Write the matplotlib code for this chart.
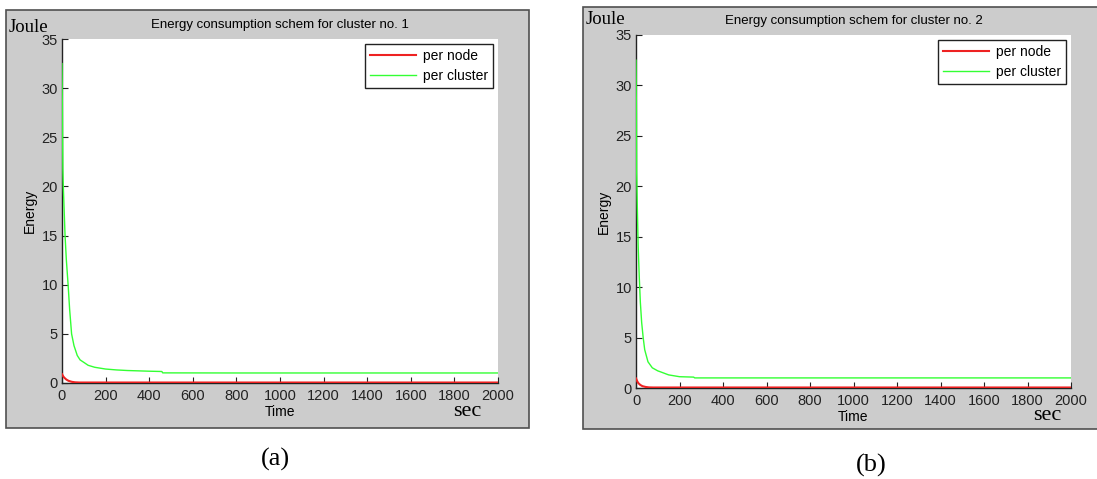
import matplotlib.pyplot as plt
from matplotlib.patches import Rectangle

plt.rcParams['font.family'] = ['Liberation Sans', 'DejaVu Sans']

# time samples (sec) and energy (Joule) for cluster 1
t_a = [0, 2, 4, 6, 10, 14, 20, 28, 35, 44, 55, 70, 83, 100, 120, 150,
       200, 250, 300, 400, 458, 462, 800, 1200, 1600, 2000]
cluster_a = [32.5, 27.2, 21.8, 20.0, 17.5, 15.0, 12.5, 10.0, 7.5, 5.0, 3.8,
             2.8, 2.35, 2.1, 1.8, 1.6, 1.42, 1.33, 1.27, 1.2, 1.17, 1.03,
             1.02, 1.02, 1.02, 1.02]
t_node_a = [0, 5, 10, 20, 30, 45, 60, 80, 500, 1000, 2000]
node_a = [0.9, 0.7, 0.55, 0.35, 0.22, 0.12, 0.07, 0.05, 0.05, 0.05, 0.05]

# cluster 2
t_b = [0, 2, 3, 6, 10, 15, 20, 26, 33, 40, 55, 75, 100, 113, 150, 200,
       265, 270, 800, 1200, 1600, 2000]
cluster_b = [32.5, 27.2, 21.5, 18.0, 14.0, 11.0, 8.5, 6.5, 5.0, 3.8, 2.6,
             2.0, 1.7, 1.6, 1.3, 1.12, 1.08, 1.0, 1.0, 1.0, 1.0, 1.0]
t_node_b = [0, 5, 10, 20, 30, 45, 60, 80, 500, 1000, 2000]
node_b = [0.95, 0.7, 0.5, 0.3, 0.18, 0.1, 0.06, 0.05, 0.05, 0.05, 0.05]

x_ticks = list(range(0, 2001, 200))
y_ticks = list(range(0, 36, 5))

W, H = 1097, 479
fig = plt.figure(figsize=(W / 100, H / 100), dpi=100)


def fx(px):
    return px / W


def fy(py):
    return 1 - py / H


def panel(box, ax_box, t, cl, tn, nd, num, label, label_xy, sec_xy, joule_y):
    x0, y0, x1, y1 = box
    bg = Rectangle((fx(x0), fy(y1)), fx(x1 - x0), (y1 - y0) / H,
                   transform=fig.transFigure, facecolor='#cccccc',
                   edgecolor='#505050', linewidth=1.2, zorder=-5)
    fig.patches.append(bg)
    a0, b0, a1, b1 = ax_box
    ax = fig.add_axes([fx(a0), fy(b1), fx(a1 - a0), (b1 - b0) / H], zorder=1)
    ax.plot(t, cl, color='#33ff33', lw=1.0, label='per cluster', zorder=3)
    ax.plot(tn, nd, color='#ee2222', lw=1.5, label='per node', zorder=3)
    ax.set_xlim(0, 2000)
    ax.set_ylim(0, 35)
    ax.set_xticks(x_ticks)
    ax.set_yticks(y_ticks)
    ax.tick_params(direction='in', length=4, labelsize=10.5, colors='#222222',
                   width=0.8)
    ax.tick_params(axis='x', pad=4)
    ax.tick_params(axis='y', pad=3)
    for s in ['top', 'right']:
        ax.spines[s].set_visible(False)
    for s in ['left', 'bottom']:
        ax.spines[s].set_color('#222222')
        ax.spines[s].set_linewidth(1.0)
    ax.set_xlabel('Time', fontsize=10, labelpad=2)
    ax.set_ylabel('Energy', fontsize=10, labelpad=3)
    ax.set_title(f'Energy consumption schem for cluster no. {num}', fontsize=9.5,
                 pad=8)
    handles, labels = ax.get_legend_handles_labels()
    leg = ax.legend(handles[::-1], labels[::-1], loc='upper right', fontsize=10,
                    fancybox=False, edgecolor='#222222', framealpha=1,
                    handlelength=3.3, borderpad=0.35, labelspacing=0.45,
                    borderaxespad=0, handletextpad=0.5,
                    bbox_to_anchor=(1 - 5 / (a1 - a0), 1 - 5 / (b1 - b0)))
    leg.get_frame().set_linewidth(1.0)
    fig.text(fx(box[0] + 3), fy(joule_y), 'Joule', family='Liberation Serif',
             fontsize=13.5, va='center', ha='left')
    fig.text(fx(sec_xy[0]), fy(sec_xy[1]), 'sec', family='Liberation Serif',
             fontsize=16, va='center', ha='center')
    fig.text(fx(label_xy[0]), fy(label_xy[1]), label, family='Liberation Serif',
             fontsize=19, va='center', ha='center')
    return ax


panel((6, 10, 529, 428), (62, 39, 498, 383), t_a, cluster_a, t_node_a, node_a,
      1, '(a)', (275, 459), (467, 412), 27)
panel((583, 7, 1100, 429), (636, 35, 1071, 388), t_b, cluster_b, t_node_b, node_b,
      2, '(b)', (871, 465), (1047, 415), 19)

fig.savefig('out.png', dpi=100)
